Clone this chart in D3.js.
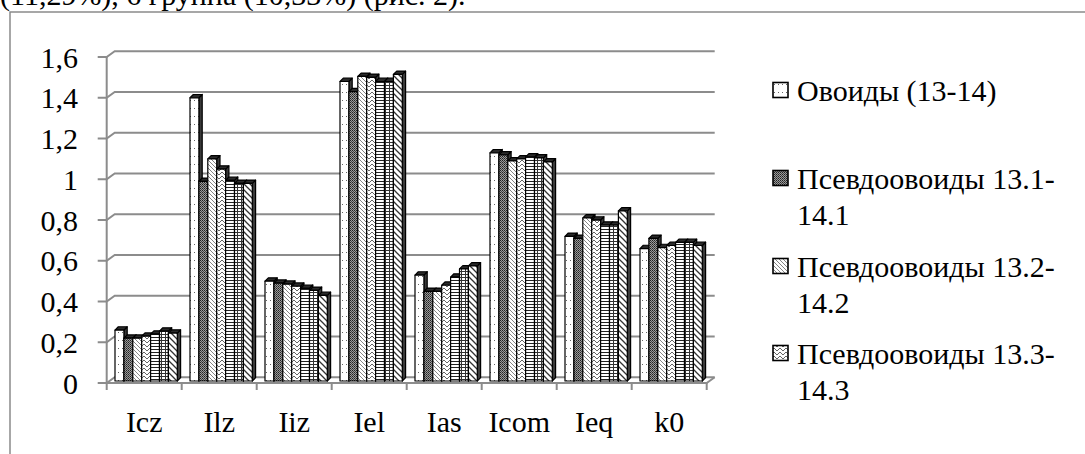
<!doctype html>
<html lang="ru">
  <head>
    <meta charset="UTF-8" />
    <title>Индексы овоидов</title>
    <style>
      body {
        margin: 0;
        background: #fff;
      }
      svg {
        display: block;
      }
    </style>
  </head>
  <body>
    <svg id="chart" width="1085" height="454"></svg>

    <script src="https://d3js.org/d3.v7.min.js"></script>
    <script>
      const categories = ["Icz", "Ilz", "Iiz", "Iel", "Ias", "Icom", "Ieq", "k0"];

      // seven series, one value per category
      const ovoids = [0.25, 1.39, 0.49, 1.47, 0.52, 1.12, 0.71, 0.65];
      const pseudo1 = [0.21, 0.98, 0.48, 1.42, 0.44, 1.11, 0.7, 0.7];
      const pseudo2 = [0.21, 1.09, 0.475, 1.495, 0.44, 1.08, 0.8, 0.655];
      const pseudo3 = [0.22, 1.04, 0.465, 1.49, 0.47, 1.09, 0.79, 0.665];
      const pseudo4 = [0.23, 0.985, 0.455, 1.47, 0.51, 1.1, 0.765, 0.68];
      const pseudo5 = [0.245, 0.97, 0.445, 1.47, 0.55, 1.095, 0.765, 0.68];
      const pseudo6 = [0.235, 0.97, 0.42, 1.505, 0.565, 1.075, 0.835, 0.665];
      const series = [ovoids, pseudo1, pseudo2, pseudo3, pseudo4, pseudo5, pseudo6];

      // only the first four legend entries fit in the frame
      const legendLabels = [
        ["Овоиды (13-14)"],
        ["Псевдоовоиды 13.1-", "14.1"],
        ["Псевдоовоиды 13.2-", "14.2"],
        ["Псевдоовоиды 13.3-", "14.3"],
      ];

      const yTicks = [0, 0.2, 0.4, 0.6, 0.8, 1, 1.2, 1.4, 1.6];

      const serif = "'Liberation Serif', 'Times New Roman', 'DejaVu Serif', serif";
      const svg = d3.select("#chart").attr("font-family", serif);
      const defs = svg.append("defs");

      // fill patterns, one per series
      function pattern(id, w, h, draw) {
        const p = defs
          .append("pattern")
          .attr("id", id)
          .attr("patternUnits", "userSpaceOnUse")
          .attr("width", w)
          .attr("height", h);
        p.append("rect").attr("width", w).attr("height", h).attr("fill", "#fff");
        draw(p);
      }
      pattern("p0", 4, 8, (p) =>
        p.append("rect").attr("x", 2).attr("y", 4).attr("width", 1).attr("height", 1).attr("fill", "#666"),
      );
      pattern("p1", 2, 2, (p) => {
        p.append("rect").attr("width", 2).attr("height", 2).attr("fill", "#9a9a9a");
        p.append("rect").attr("width", 1).attr("height", 1).attr("fill", "#222");
        p.append("rect").attr("x", 1).attr("y", 1).attr("width", 1).attr("height", 1).attr("fill", "#444");
      });
      pattern("p2", 4, 4, (p) =>
        p.append("path").attr("d", "M-1,-1L5,5M-1,3L1,5M3,-1L5,1").attr("stroke", "#777").attr("stroke-width", 0.9),
      );
      pattern("p3", 6, 4, (p) =>
        p.append("path").attr("d", "M0,0L3,3L6,0").attr("fill", "none").attr("stroke", "#555").attr("stroke-width", 0.9),
      );
      pattern("p4", 2, 3, (p) =>
        p.append("rect").attr("y", 1).attr("width", 2).attr("height", 1).attr("fill", "#222"),
      );
      pattern("p5", 4, 3, (p) => {
        p.append("rect").attr("y", 1).attr("width", 4).attr("height", 1).attr("fill", "#333");
        p.append("rect").attr("x", 1).attr("width", 1).attr("height", 3).attr("fill", "#333");
      });
      pattern("p6", 6, 6, (p) =>
        p.append("path").attr("d", "M-1,-1L7,7M-1,5L1,7M5,-1L7,1").attr("stroke", "#333").attr("stroke-width", 1.3),
      );

      // document text cut off above the chart
      svg
        .append("text")
        .attr("x", 0)
        .attr("y", 5)
        .attr("font-size", 30)
        .text("(11,29%), 6 группа (10,33%) (рис. 2).");

      // chart frame
      svg
        .append("rect")
        .attr("x", 10)
        .attr("y", 12)
        .attr("width", 1100)
        .attr("height", 460)
        .attr("fill", "none")
        .attr("stroke", "#8a8a8a")
        .attr("stroke-width", 1.5);

      const x = d3.scaleBand().domain(categories).range([106.7, 706.7]);
      const y = d3.scaleLinear().domain([0, 1.6]).range([383, 57]);
      const inner = d3.scaleBand().domain(d3.range(series.length)).range([8.3, 70.6]);

      // back wall offset and bar depth
      const wx = 8,
        wy = -5.7;
      const bx = 3.3,
        by = -3.3;
      const x0 = x.range()[0],
        x1 = x.range()[1];

      const grid = svg.append("g").attr("stroke", "#8c8c8c").attr("fill", "none");
      yTicks.forEach((t) => {
        grid
          .append("path")
          .attr("stroke-width", 2)
          .attr(
            "d",
            `M${x0 - 9},${y(t)}L${x0},${y(t)}L${x0 + wx},${y(t) + wy}L${x1 + wx},${y(t) + wy}`,
          );
      });
      grid
        .append("path")
        .attr("stroke-width", 2)
        .attr("d", `M${x0},${y(1.6)}L${x0},${y(0)}L${x1},${y(0)}L${x1 + wx},${y(0) + wy}`);
      categories.concat([null]).forEach((c, i) => {
        const xt = x0 + i * x.bandwidth();
        grid.append("line").attr("stroke-width", 2).attr("x1", xt).attr("x2", xt).attr("y1", y(0)).attr("y2", y(0) + 7);
      });

      // y labels
      svg
        .append("g")
        .attr("font-size", 30)
        .attr("text-anchor", "end")
        .selectAll("text")
        .data(yTicks)
        .join("text")
        .attr("x", 78)
        .attr("y", (d) => y(d))
        .attr("dy", "0.35em")
        .text((d) => String(d).replace(".", ","));

      // category labels
      svg
        .append("g")
        .attr("font-size", 30)
        .attr("text-anchor", "middle")
        .selectAll("text")
        .data(categories)
        .join("text")
        .attr("x", (d) => x(d) + x.bandwidth() / 2)
        .attr("y", 432)
        .text((d) => d);

      // 3d bars, drawn left to right so each front face hides the previous side
      const base = y(0) - 2;
      const bars = svg.append("g").attr("stroke", "#000").attr("stroke-width", 1.2).attr("stroke-linejoin", "round");
      categories.forEach((c, ci) => {
        series.forEach((s, si) => {
          const bx0 = x(c) + inner(si);
          const w = inner.bandwidth();
          const top = y(s[ci]) - 2;
          bars
            .append("path")
            .attr("fill", "#3a3a3a")
            .attr("d", `M${bx0 + w},${base}L${bx0 + w},${top}L${bx0 + w + bx},${top + by}L${bx0 + w + bx},${base + by}Z`);
          bars
            .append("path")
            .attr("fill", "#2a2a2a")
            .attr("d", `M${bx0},${top}L${bx0 + bx},${top + by}L${bx0 + w + bx},${top + by}L${bx0 + w},${top}Z`);
          bars
            .append("rect")
            .attr("fill", `url(#p${si})`)
            .attr("x", bx0)
            .attr("y", top)
            .attr("width", w)
            .attr("height", base - top);
        });
      });

      // legend
      const legend = svg.append("g").attr("font-size", 30);
      const legendY = [90, 178, 266, 353];
      legendLabels.forEach((lines, i) => {
        legend
          .append("rect")
          .attr("x", 773)
          .attr("y", legendY[i] - 7.5)
          .attr("width", 15)
          .attr("height", 15)
          .attr("fill", `url(#p${i})`)
          .attr("stroke", "#000")
          .attr("stroke-width", 1.6);
        lines.forEach((line, li) => {
          legend
            .append("text")
            .attr("x", 797)
            .attr("y", legendY[i] + li * 36)
            .attr("dy", "0.35em")
            .text(line);
        });
      });
    </script>
  </body>
</html>
